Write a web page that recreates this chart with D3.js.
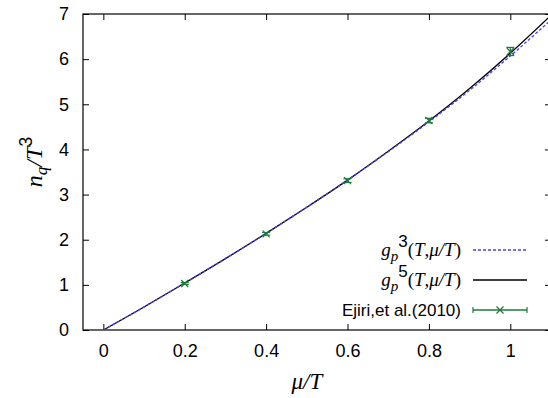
<!DOCTYPE html>
<html>
<head>
<meta charset="utf-8">
<script src="https://cdn.jsdelivr.net/npm/d3@7"></script>
<style>
  body { margin: 0; background: #fff; }
  svg text { fill: #000; }
</style>
</head>
<body>
<svg id="chart" width="548" height="398"></svg>
<script>
// values
const muT = [0, 0.1, 0.2, 0.3, 0.4, 0.5, 0.6, 0.7, 0.8, 0.9, 1.0, 1.1];
const gp3 = [0, 0.51, 1.04, 1.58, 2.14, 2.72, 3.32, 3.95, 4.61, 5.31, 6.07, 6.87];
const gp5 = [0, 0.51, 1.04, 1.58, 2.14, 2.72, 3.32, 3.96, 4.63, 5.35, 6.13, 6.97];

const ejiriX = [0.2, 0.4, 0.6, 0.8, 1.0];
const ejiriY = [1.03, 2.13, 3.31, 4.64, 6.17];
const ejiriErr = [0.02, 0.03, 0.04, 0.05, 0.09];

const xTicks = [0, 0.2, 0.4, 0.6, 0.8, 1];
const yTicks = [0, 1, 2, 3, 4, 5, 6, 7];

const margin = {left: 83, top: 14, right: 551, bottom: 330};
const svg = d3.select("#chart");

const x = d3.scaleLinear().domain([-0.05, 1.1]).range([margin.left, margin.right]);
const y = d3.scaleLinear().domain([0, 7]).range([margin.bottom, margin.top]);

const green = "#1d7a3c";
const blue = "#4a3ff0";
const sans = "'Liberation Sans', Arial, sans-serif";
const serif = "'Liberation Serif', 'Times New Roman', serif";

// clip for curves
svg.append("clipPath").attr("id", "plotclip")
    .append("rect")
    .attr("x", margin.left).attr("y", margin.top)
    .attr("width", margin.right - margin.left).attr("height", margin.bottom - margin.top);

// axes, ticks inward (gnuplot style)
const tick = 6;
const axisG = svg.append("g");
axisG.append("g")
    .attr("transform", `translate(0,${margin.bottom})`)
    .call(d3.axisBottom(x).tickValues(xTicks).tickSize(-tick).tickPadding(14).tickFormat(d3.format("")))
    .call(g => g.select(".domain").remove());
axisG.append("g")
    .attr("transform", `translate(0,${margin.top})`)
    .call(d3.axisTop(x).tickValues(xTicks).tickSize(-tick).tickFormat(""))
    .call(g => g.select(".domain").remove());
axisG.append("g")
    .attr("transform", `translate(${margin.left},0)`)
    .call(d3.axisLeft(y).tickValues(yTicks).tickSize(-tick).tickPadding(14).tickFormat(d3.format("d")))
    .call(g => g.select(".domain").remove());
axisG.append("g")
    .attr("transform", `translate(${margin.right},0)`)
    .call(d3.axisRight(y).tickValues(yTicks).tickSize(-tick).tickFormat(""))
    .call(g => g.select(".domain").remove());

axisG.selectAll(".tick line").attr("stroke", "#000").attr("stroke-width", 1);
axisG.selectAll(".tick text")
    .attr("font-family", null)
    .style("font-family", sans).style("font-size", "18px");

svg.append("rect")
    .attr("x", margin.left).attr("y", margin.top)
    .attr("width", margin.right - margin.left).attr("height", margin.bottom - margin.top)
    .attr("fill", "none").attr("stroke", "#000").attr("stroke-width", 1.2);

// curves
const line = (vals) => d3.line()
    .x((d, i) => x(muT[i]))
    .y((d, i) => y(vals[i]))
    .curve(d3.curveMonotoneX)(vals);

const plot = svg.append("g").attr("clip-path", "url(#plotclip)");

plot.append("path")
    .attr("d", line(gp5))
    .attr("fill", "none").attr("stroke", "#000").attr("stroke-width", 1.3);

plot.append("path")
    .attr("d", line(gp3))
    .attr("fill", "none").attr("stroke", blue).attr("stroke-width", 1.3)
    .attr("stroke-dasharray", "3,2");

// data points with error bars
const pts = plot.append("g").attr("stroke", green).attr("stroke-width", 1.2).attr("fill", "none");
ejiriX.forEach((xv, i) => {
    const cx = x(xv), cy = y(ejiriY[i]);
    const top = y(ejiriY[i] + ejiriErr[i]), bot = y(ejiriY[i] - ejiriErr[i]);
    const cap = 4;
    pts.append("line").attr("x1", cx).attr("x2", cx).attr("y1", top).attr("y2", bot);
    pts.append("line").attr("x1", cx - cap).attr("x2", cx + cap).attr("y1", top).attr("y2", top);
    pts.append("line").attr("x1", cx - cap).attr("x2", cx + cap).attr("y1", bot).attr("y2", bot);
    const m = 3.5;
    pts.append("path").attr("d", `M${cx - m},${cy - m}L${cx + m},${cy + m}M${cx - m},${cy + m}L${cx + m},${cy - m}`);
});

// axis labels
svg.append("text")
    .attr("x", x(0.5)).attr("y", 389)
    .attr("text-anchor", "middle")
    .style("font-family", serif).style("font-style", "italic").style("font-size", "23px")
    .text("\u03bc/T");

const yl = svg.append("text")
    .attr("transform", `translate(42,${(margin.top + margin.bottom) / 2 - 10}) rotate(-90)`)
    .attr("text-anchor", "middle")
    .style("font-family", serif).style("font-style", "italic").style("font-size", "24px");
yl.append("tspan").text("n");
yl.append("tspan").attr("dy", 5).style("font-size", "17px").text("q");
yl.append("tspan").attr("dy", -5).text("/T");
yl.append("tspan").attr("dy", -10).style("font-style", "normal").style("font-family", sans).style("font-size", "18px").text("3");

// legend
const legRows = [
    {k: "3", y: 250, stroke: blue, dash: "3,2"},
    {k: "5", y: 280, stroke: "#000", dash: null},
    {k: null, y: 310, stroke: green, dash: null}
];
const legX = 461, l1 = 473, l2 = 527;
const leg = svg.append("g");
legRows.forEach(r => {
    const t = leg.append("text")
        .attr("x", legX).attr("y", r.y + 6)
        .attr("text-anchor", "end")
        .style("font-size", "19px");
    if (r.k) {
        t.style("font-family", serif);
        t.append("tspan").style("font-style", "italic").text("g");
        t.append("tspan").attr("dy", 5).style("font-style", "italic").style("font-size", "15px").text("p");
        t.append("tspan").attr("dy", -14).style("font-family", sans).style("font-size", "17px").text(r.k);
        t.append("tspan").attr("dy", 9).text("(");
        t.append("tspan").style("font-style", "italic").text("T");
        t.append("tspan").text(",");
        t.append("tspan").style("font-style", "italic").text("\u03bc/T");
        t.append("tspan").text(")");
    } else {
        t.style("font-family", sans).style("font-size", "17px").text("Ejiri,et al.(2010)");
    }
    leg.append("line")
        .attr("x1", l1).attr("x2", l2).attr("y1", r.y).attr("y2", r.y)
        .attr("stroke", r.stroke).attr("stroke-width", 1.3)
        .attr("stroke-dasharray", r.dash);
    if (!r.k) {
        leg.append("line").attr("x1", l1).attr("x2", l1).attr("y1", r.y - 3).attr("y2", r.y + 3).attr("stroke", green).attr("stroke-width", 1.2);
        leg.append("line").attr("x1", l2).attr("x2", l2).attr("y1", r.y - 3).attr("y2", r.y + 3).attr("stroke", green).attr("stroke-width", 1.2);
        const cx = (l1 + l2) / 2, m = 3.5;
        leg.append("path").attr("d", `M${cx - m},${r.y - m}L${cx + m},${r.y + m}M${cx - m},${r.y + m}L${cx + m},${r.y - m}`)
            .attr("stroke", green).attr("stroke-width", 1.2);
    }
});
</script>
</body>
</html>
